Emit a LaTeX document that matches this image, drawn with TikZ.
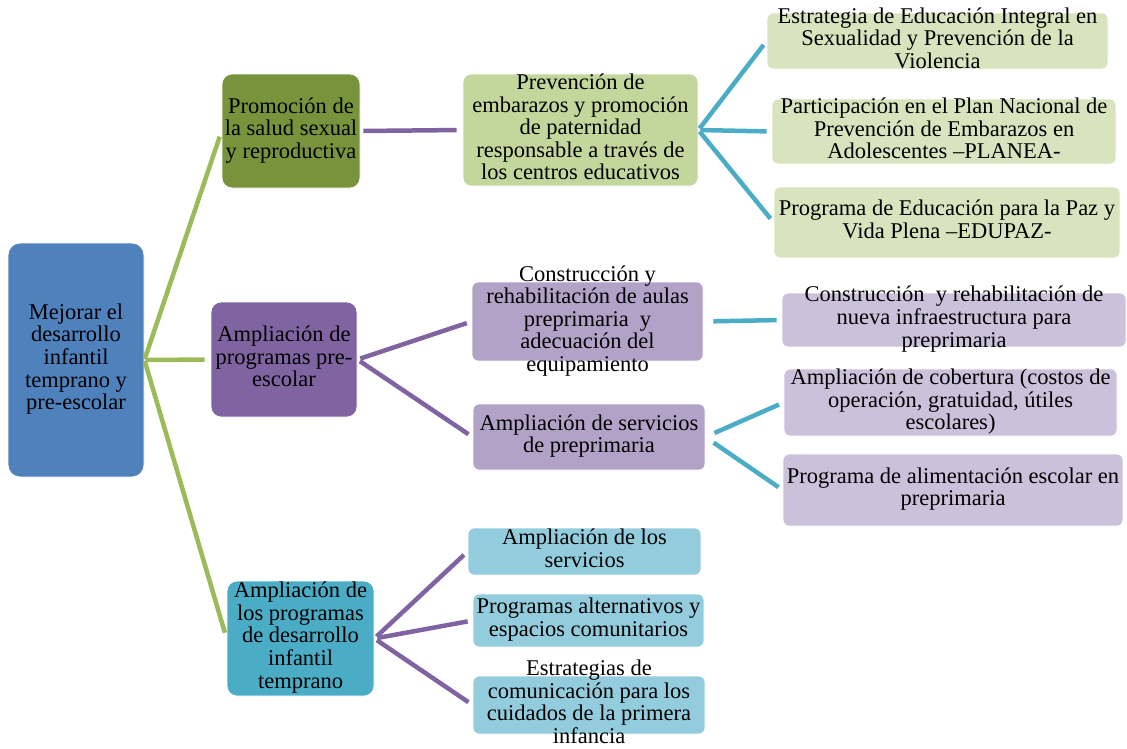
\documentclass[tikz,border=0pt]{standalone}
\usepackage{fontspec}
\setmainfont{Liberation Serif}
\definecolor{cRoot}{HTML}{4F81BD}
\definecolor{cGreenD}{HTML}{77933C}
\definecolor{cPurpleD}{HTML}{8064A2}
\definecolor{cTealD}{HTML}{4BACC6}
\definecolor{cGreenM}{HTML}{C3D69B}
\definecolor{cGreenL}{HTML}{D7E4BD}
\definecolor{cPurpleM}{HTML}{B3A2C7}
\definecolor{cPurpleL}{HTML}{CCC1DA}
\definecolor{cTealM}{HTML}{93CDDD}
\definecolor{cLineG}{HTML}{9BBB59}
\definecolor{cLineP}{HTML}{8064A2}
\definecolor{cLineT}{HTML}{4BACC6}
\newcommand\bt[1]{\makebox[0pt]{\vbox to 0pt{\vss\hbox{\begin{tabular}{@{}c@{}}#1\end{tabular}}\vss}}}
\tikzset{
  bx/.style={rounded corners=8pt, draw=white, line width=0.8pt, inner sep=0pt,
    font=\fontsize{22.5}{22.5}\selectfont},
  leaf/.style={bx, rounded corners=6pt},
  sz/.style 2 args={minimum width=#1, minimum height=#2},
  gline/.style={draw=cLineG, line width=4.5pt},
  pline/.style={draw=cLineP, line width=4.5pt},
  tline/.style={draw=cLineT, line width=4.5pt}
}
\begin{document}
\begin{tikzpicture}[x=1pt,y=-1pt]
\useasboundingbox (0,0) rectangle (1127,748);
% level 0
\node[bx, fill=cRoot, sz={136}{234}, rounded corners=12pt] (root) at (76,360)
  {\bt{Mejorar el\\desarrollo\\infantil\\temprano y\\pre-escolar}};
% level 1
\node[bx, fill=cGreenD, sz={138}{114}, rounded corners=10pt] (a1) at (291,131)
  {\bt{Promoción de\\la salud sexual\\y reproductiva}};
\node[bx, fill=cPurpleD, sz={146}{115}, rounded corners=10pt] (a2) at (284,359.5)
  {\bt{Ampliación de\\programas pre-\\escolar}};
\node[bx, fill=cTealD, sz={147}{115}, rounded corners=10pt] (a3) at (300.5,638.5)
  {\bt{Ampliación de\\los programas\\de desarrollo\\infantil\\temprano}};
% level 2
\node[bx, fill=cGreenM, sz={235}{112}] (b1) at (580.5,130)
  {\bt{Prevención de\\embarazos y promoción\\de paternidad\\responsable a través de\\los centros educativos}};
\node[bx, fill=cPurpleM, sz={231}{79}, rounded corners=6pt] (b2) at (587.5,321.5)
  {\bt{Construcción y\\rehabilitación de aulas\\preprimaria\ \ y\\adecuación del\\equipamiento}};
\node[bx, fill=cPurpleM, sz={232}{66}, rounded corners=6pt] (b3) at (589,437)
  {\bt{Ampliación de servicios\\de preprimaria}};
\node[leaf, fill=cTealM, sz={233}{47}] (b4) at (584.5,551.5)
  {\bt{Ampliación de los\\servicios}};
\node[leaf, fill=cTealM, sz={231}{53}] (b5) at (588.5,620.5)
  {\bt{Programas alternativos y\\espacios comunitarios}};
\node[leaf, fill=cTealM, sz={232}{58}] (b6) at (589,705)
  {\bt{Estrategias de\\comunicación para los\\cuidados de la primera\\infancia}};
% level 3
\node[leaf, fill=cGreenL, sz={341}{56}] (c1) at (937.5,41)
  {\bt{Estrategia de Educación Integral en\\Sexualidad y Prevención de la\\Violencia}};
\node[leaf, fill=cGreenL, sz={344}{65}] (c2) at (944,131.5)
  {\bt{Participación en el Plan Nacional de\\Prevención de Embarazos en\\Adolescentes –PLANEA-}};
\node[leaf, fill=cGreenL, sz={346}{71}] (c3) at (947,222.5)
  {\bt{Programa de Educación para la Paz y\\Vida Plena –EDUPAZ-}};
\node[leaf, fill=cPurpleL, sz={344}{54}] (c4) at (954,320)
  {\bt{Construcción\ \ y rehabilitación de\\nueva infraestructura para\\preprimaria}};
\node[leaf, fill=cPurpleL, sz={333}{67}] (c5) at (950.5,402.5)
  {\bt{Ampliación de cobertura (costos de\\operación, gratuidad, útiles\\escolares)}};
\node[leaf, fill=cPurpleL, sz={340}{72}] (c6) at (953,490)
  {\bt{Programa de alimentación escolar en\\preprimaria}};
% connectors
\draw[gline, shorten <=1pt, shorten >=6pt] (root.east) -- (a1.west);
\draw[gline, shorten <=1pt, shorten >=6pt] (root.east) -- (a2.west);
\draw[gline, shorten <=1pt, shorten >=6pt] (root.east) -- (a3.west);
\draw[pline, shorten <=3pt, shorten >=6pt] (a1.east) -- (b1.west);
\draw[pline, shorten <=3pt, shorten >=5pt] (a2.east) -- (b2.west);
\draw[pline, shorten <=3pt, shorten >=5pt] (a2.east) -- (b3.west);
\draw[pline, shorten <=3pt, shorten >=5pt] (a3.east) -- (b4.west);
\draw[pline, shorten <=3pt, shorten >=5pt] (a3.east) -- (b5.west);
\draw[pline, shorten <=3pt, shorten >=5pt] (a3.east) -- (b6.west);
\draw[tline, shorten <=2pt, shorten >=5pt] (b1.east) -- (c1.west);
\draw[tline, shorten <=2pt, shorten >=5pt] (b1.east) -- (c2.west);
\draw[tline, shorten <=2pt, shorten >=5pt] (b1.east) -- (c3.west);
\draw[tline, shorten <=10pt, shorten >=5pt] (b2.east) -- (c4.west);
\draw[tline, shorten <=10pt, shorten >=5pt] (b3.east) -- (c5.west);
\draw[tline, shorten <=10pt, shorten >=5pt] (b3.east) -- (c6.west);
\end{tikzpicture}
\end{document}
